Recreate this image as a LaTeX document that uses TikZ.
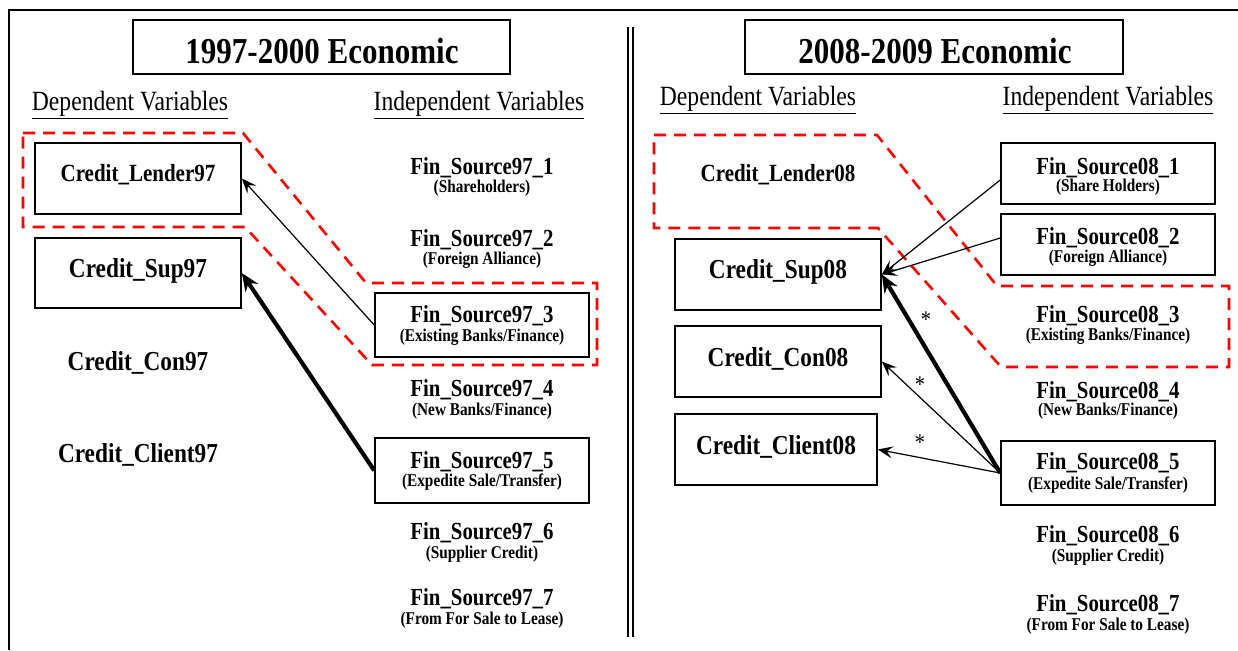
\documentclass[tikz,border=0pt]{standalone}
\usepackage{fontspec}
\setmainfont[FakeStretch=0.85]{Liberation Serif}
\usetikzlibrary{arrows.meta}
\tikzset{
  frameline/.style={line width=1.6pt},
  box/.style={draw, line width=1.6pt, inner sep=0pt},
  ttl/.style={inner sep=0pt, font=\fontsize{36.5}{40}\selectfont\bfseries},
  hdr/.style={inner sep=0pt, font=\fontsize{27.8}{32}\selectfont},
  dep/.style={inner sep=0pt, font=\fontsize{27.4}{32}\selectfont\bfseries},
  lend/.style={inner sep=0pt, font=\fontsize{24.7}{29}\selectfont\bfseries},
  fint/.style={inner sep=0pt, text height=12pt, text depth=0pt, font=\fontsize{24.5}{29}\selectfont\bfseries},
  fins/.style={inner sep=0pt, text height=9pt, text depth=0pt, font=\fontsize{18}{21}\selectfont\bfseries},
  star/.style={inner sep=0pt, font=\fontsize{24}{28}\selectfont},
  reddash/.style={draw=red, line width=2.6pt, dash pattern=on 12pt off 8pt},
  thinarrow/.style={line width=1.2pt, -{Stealth[length=15pt,width=12pt,inset=6pt]}},
  thickarrow/.style={line width=4.2pt, -{Stealth[length=18pt,width=15pt,inset=6pt]}},
}
\begin{document}
\begin{tikzpicture}[x=1pt,y=-1pt]
\useasboundingbox (0,0) rectangle (1238,650);
% outer frame
\draw[frameline] (9,650) -- (9,10) -- (1238,10);
\draw[line width=1.4pt] (628,27) -- (628,637);
\draw[line width=1.4pt] (633,27) -- (633,637);

% red dashed groups
\draw[reddash] (23,133) -- (243,133) -- (366,283) -- (597,283) -- (597,365) -- (372,365) -- (245,227) -- (23,227) -- cycle;
\draw[reddash] (654,135) -- (877,135) -- (997,286) -- (1229,286) -- (1229,367) -- (1001,367) -- (878,228) -- (654,228) -- cycle;

% ---------------- left panel ----------------
\node[box, minimum width=377pt, minimum height=54pt] (t97) at (321.5,47) {};
\node[ttl] (t97l) at (322,51) {1997-2000 Economic};
\node[hdr] (dv97) at (130,105) {\underline{Dependent Variables}};
\node[hdr] (iv97) at (479,105) {\underline{Independent Variables}};

\node[box, minimum width=206pt, minimum height=71pt] (l97) at (138,178.5) {};
\node[lend] (l97l) at (138,175) {Credit\_Lender97};
\node[box, minimum width=206pt, minimum height=70pt] (s97) at (138,273) {};
\node[dep] (s97l) at (138,271) {Credit\_Sup97};
\node[dep] (c97) at (138,363) {Credit\_Con97};
\node[dep] (cl97) at (138,455) {Credit\_Client97};

\node[fint] (f971) at (482,168) {Fin\_Source97\_1};
\node[fins] (f971s) at (482,188) {(Shareholders)};
\node[fint] (f972) at (482,240) {Fin\_Source97\_2};
\node[fins] (f972s) at (482,260) {(Foreign Alliance)};
\node[box, minimum width=214pt, minimum height=64pt] (f973) at (482,325) {};
\node[fint] (f973t) at (482,316) {Fin\_Source97\_3};
\node[fins] (f973s) at (482,337) {(Existing Banks/Finance)};
\node[fint] (f974) at (482,390) {Fin\_Source97\_4};
\node[fins] (f974s) at (482,411) {(New Banks/Finance)};
\node[box, minimum width=214pt, minimum height=65pt] (f975) at (482,470.5) {};
\node[fint] (f975t) at (482,462) {Fin\_Source97\_5};
\node[fins] (f975s) at (482,482) {(Expedite Sale/Transfer)};
\node[fint] (f976) at (482,533) {Fin\_Source97\_6};
\node[fins] (f976s) at (482,554) {(Supplier Credit)};
\node[fint] (f977) at (482,599) {Fin\_Source97\_7};
\node[fins] (f977s) at (482,620) {(From For Sale to Lease)};

\draw[thinarrow] (f973.west) -- (l97.east);
\draw[thickarrow] (f975.west) -- (s97.east);

% ---------------- right panel ----------------
\node[box, minimum width=378pt, minimum height=54pt] (t08) at (934,47) {};
\node[ttl] (t08l) at (935,51) {2008-2009 Economic};
\node[hdr] (dv08) at (758,100) {\underline{Dependent Variables}};
\node[hdr] (iv08) at (1108,100) {\underline{Independent Variables}};

\node[lend] (l08) at (778,175) {Credit\_Lender08};
\node[box, minimum width=206pt, minimum height=71pt] (s08) at (778,274.5) {};
\node[dep] (s08l) at (778,272) {Credit\_Sup08};
\node[box, minimum width=206pt, minimum height=71pt] (c08) at (778,361.5) {};
\node[dep] (c08l) at (778,359) {Credit\_Con08};
\node[box, minimum width=202pt, minimum height=71pt] (cl08) at (776,449.5) {};
\node[dep] (cl08l) at (776,447) {Credit\_Client08};

\node[box, minimum width=214pt, minimum height=61pt] (f081) at (1108,173.5) {};
\node[fint] (f081t) at (1108,168) {Fin\_Source08\_1};
\node[fins] (f081s) at (1108,187) {(Share Holders)};
\node[box, minimum width=214pt, minimum height=61pt] (f082) at (1108,244.5) {};
\node[fint] (f082t) at (1108,238) {Fin\_Source08\_2};
\node[fins] (f082s) at (1108,258) {(Foreign Alliance)};
\node[fint] (f083) at (1108,316) {Fin\_Source08\_3};
\node[fins] (f083s) at (1108,336) {(Existing Banks/Finance)};
\node[fint] (f084) at (1108,392) {Fin\_Source08\_4};
\node[fins] (f084s) at (1108,411) {(New Banks/Finance)};
\node[box, minimum width=214pt, minimum height=64pt] (f085) at (1108,473) {};
\node[fint] (f085t) at (1108,463) {Fin\_Source08\_5};
\node[fins] (f085s) at (1108,485) {(Expedite Sale/Transfer)};
\node[fint] (f086) at (1108,536) {Fin\_Source08\_6};
\node[fins] (f086s) at (1108,557) {(Supplier Credit)};
\node[fint] (f087) at (1108,605) {Fin\_Source08\_7};
\node[fins] (f087s) at (1108,626) {(From For Sale to Lease)};

\draw[thinarrow] ([yshift=-6.5pt]f081.west) -- (s08.east);
\draw[thinarrow] ([yshift=6.5pt]f082.west) -- (s08.east);
\draw[thickarrow] (f085.west) -- (s08.east);
\draw[thinarrow] (f085.west) -- (c08.east);
\draw[thinarrow] (f085.west) -- (cl08.east);
\node[star] (st1) at (926,320) {*};
\node[star] (st2) at (920,385) {*};
\node[star] (st3) at (920,443) {*};
\end{tikzpicture}
\end{document}
